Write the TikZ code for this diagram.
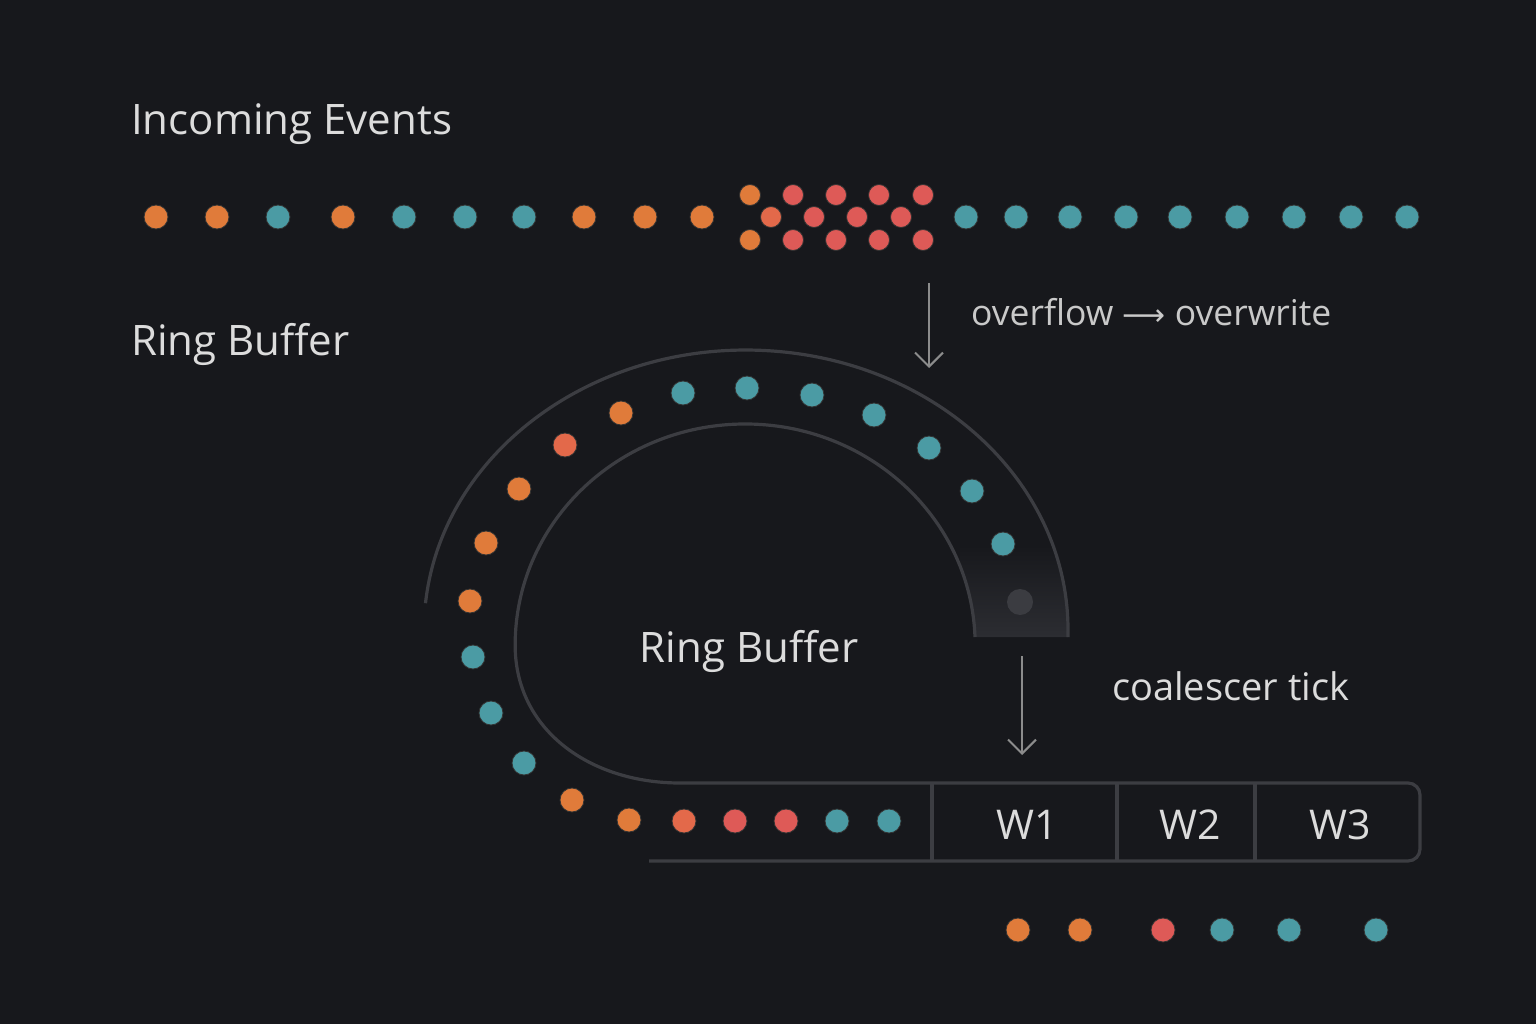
\documentclass[tikz,border=0pt]{standalone}
\usepackage{fontspec}
\setmainfont{Open Sans}
\newfontfamily\symfont{DejaVu Sans}
\usetikzlibrary{arrows.meta}
\definecolor{bg}{HTML}{17181C}
\definecolor{cor}{HTML}{E07B3A}
\definecolor{cte}{HTML}{4B9BA4}
\definecolor{cre}{HTML}{DE5A57}
\definecolor{cmx}{HTML}{E3694A}
\definecolor{ringc}{HTML}{3C3D42}
\definecolor{txt}{HTML}{DCDCDC}
\definecolor{txt2}{HTML}{C9C9C9}
\definecolor{arr}{HTML}{8C8C8C}
\definecolor{shade}{HTML}{2C2D32}
\definecolor{gdot}{HTML}{3B3C41}
\tikzset{
  dotb/.style={circle, inner sep=0pt, minimum size=24pt, draw=black!80, line width=0.8pt},
  od/.style={dotb, fill=cor},
  td/.style={dotb, fill=cte},
  rd/.style={dotb, fill=cre},
  md/.style={dotb, fill=cmx},
  small/.style={minimum size=21pt},
  ringline/.style={draw=ringc, line width=3.2pt},
  lab/.style={text=txt, inner sep=0pt},
  flow/.style={draw=arr, line width=2pt, -{Straight Barb[length=14pt,width=28pt,line width=2pt]}},
}
\begin{document}
\begin{tikzpicture}[x=1pt,y=-1pt]
\fill[bg] (0,0) rectangle (1536,1024);
\useasboundingbox (0,0) rectangle (1536,1024);

% titles
\node[lab, anchor=base west, font=\fontsize{42}{50}\selectfont] (tin) at (131,135) {Incoming Events};
\node[lab, anchor=base west, font=\fontsize{42}{50}\selectfont] (trb) at (131,355) {Ring Buffer};

% incoming row
\foreach \x/\s [count=\i] in {156/od,217/od,278/td,343/od,404/td,465/td,524/td,584/od,645/od,702/od,
  966/td,1016/td,1070/td,1126/td,1180/td,1237/td,1294/td,1351/td,1407/td}
  \node[\s] (in\i) at (\x,217) {};
% cluster
\foreach \x/\y/\s [count=\i] in {750/195/od,793/195/rd,836/195/rd,879/195/rd,923/195/rd,
  771/217/md,814/217/rd,857/217/rd,901/217/rd,
  750/240/od,793/240/rd,836/240/rd,879/240/rd,923/240/rd}
  \node[\s, small] (cl\i) at (\x,\y) {};

% shaded tail region of ring
\begin{scope}
  \clip (975,637) arc[start angle=-2.07, end angle=-40, x radius=230, y radius=221]
    -- (992.7,450) arc[start angle=-40, end angle=0, x radius=322, y radius=280] -- (1068,637) -- cycle;
  \shade[top color=bg, bottom color=shade] (960,545) rectangle (1075,637);
\end{scope}

% ring outlines
\draw[ringline] (425.5,603.2) arc[start angle=185.5, end angle=360, x radius=322, y radius=280] -- (1068,637);
\draw[ringline] (975,637) arc[start angle=-2.07, end angle=-180, x radius=230, y radius=221]
  .. controls (515,730) and (590,783) .. (680,783)
  [rounded corners=12pt] -- (1420,783) -- (1420,861) -- (649,861);
\coordinate (d1t) at (932,783); \coordinate (d1b) at (932,861);
\coordinate (d2t) at (1117,783); \coordinate (d2b) at (1117,861);
\coordinate (d3t) at (1255,783); \coordinate (d3b) at (1255,861);
\draw[ringline] (d1t) -- (d1b);
\draw[ringline] (d2t) -- (d2b);
\draw[ringline] (d3t) -- (d3b);

% ring dots
\foreach \x/\y/\s [count=\i] in {470/601/od,486/543/od,519/489/od,565/445/md,621/413/od,
  683/393/td,747/388/td,812/395/td,874/415/td,929/448/td,972/491/td,1003/544/td,
  473/657/td,491/713/td,524/763/td,572/800/od,629/820/od,684/821/md,735/821/rd,786/821/rd,837/821/td,889/821/td}
  \node[\s] (rb\i) at (\x,\y) {};
\node[circle, fill=gdot, inner sep=0pt, minimum size=26pt] (head) at (1020,602) {};

% center label
\node[lab, anchor=base, font=\fontsize{42}{50}\selectfont] (tcent) at (749,662) {Ring Buffer};

% window labels
\node[lab, anchor=base, font=\fontsize{41}{50}\selectfont] (w1) at (1027,839) {W1};
\node[lab, anchor=base, font=\fontsize{41}{50}\selectfont] (w2) at (1190,839) {W2};
\node[lab, anchor=base, font=\fontsize{41}{50}\selectfont] (w3) at (1340,839) {W3};

% arrows
\coordinate (a1s) at (929,283); \coordinate (a1e) at (929,368);
\draw[flow] (a1s) -- (a1e);
\node[text=txt2, anchor=base west, inner sep=0pt, font=\fontsize{35.5}{42}\selectfont] (ovl) at (971,325)
  {overflow {\symfont\fontsize{30}{36}\selectfont ⟶} overwrite};
\coordinate (a2s) at (1022,656); \coordinate (a2e) at (1022,755);
\draw[flow] (a2s) -- (a2e);
\node[lab, anchor=base west, font=\fontsize{38}{44}\selectfont] (tick) at (1112,700) {coalescer tick};

% output row
\foreach \x/\s [count=\i] in {1018/od,1080/od,1163/rd,1222/td,1289/td,1376/td}
  \node[\s] (out\i) at (\x,930) {};
\end{tikzpicture}
\end{document}
